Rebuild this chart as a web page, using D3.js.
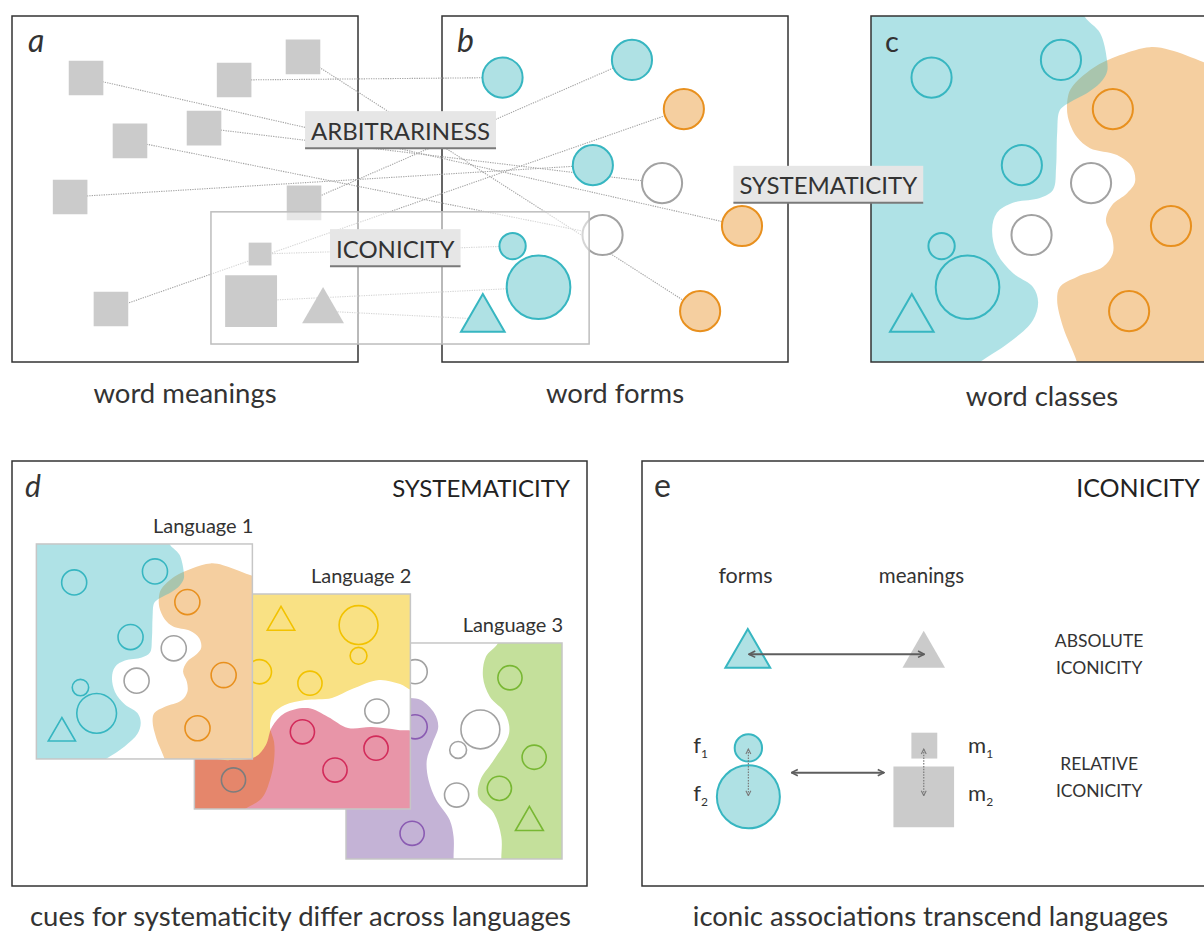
<!DOCTYPE html>
<html>
<head>
<meta charset="utf-8">
<title>Arbitrariness, systematicity and iconicity</title>
<script src="https://cdn.jsdelivr.net/npm/d3@7"></script>
<style>
  body { margin: 0; background: #fff; }
  svg { display: block; font-family: Lato, "Open Sans", sans-serif; }
  .frame { fill: none; stroke: #333; stroke-width: 1.5px; }
  .langframe { fill: none; stroke: #c6c6c6; stroke-width: 1.5px; }
  .link { fill: none; stroke: #a4a4a4; stroke-width: 1.1px; stroke-dasharray: 1.3 1.1; }
  .caption { font-size: 27.5px; fill: #333; text-anchor: middle; }
  .letter { font-size: 32px; fill: #333; }
  .title { font-size: 24px; fill: #222; text-anchor: end; }
  .tag rect { fill: #e6e6e6; }
  .tag line { stroke: #7a7a7a; stroke-width: 2px; }
  .tag text { font-size: 24px; fill: #333; }
  .small { font-size: 20.5px; fill: #333; }
  .caps { font-size: 17.5px; fill: #333; text-anchor: middle; }
</style>
</head>
<body>
<script>
// ---------- data (panel units: 100 units across each panel) ----------

// word meanings, panel a (size = side of square / width of triangle)
const meanings = [
  { id: "m1", shape: "square", x: 21.4, y: 17.9, size: 10 },
  { id: "m2", shape: "square", x: 64.2, y: 18.5, size: 10 },
  { id: "m3", shape: "square", x: 84.1, y: 11.8, size: 10 },
  { id: "m4", shape: "square", x: 55.5, y: 32.4, size: 10 },
  { id: "m5", shape: "square", x: 34.1, y: 36.1, size: 10 },
  { id: "m6", shape: "square", x: 16.8, y: 52.3, size: 10 },
  { id: "m7", shape: "square", x: 84.4, y: 54.0, size: 10 },
  { id: "m8", shape: "square", x: 28.6, y: 84.7, size: 10 },
  { id: "m9", shape: "square", x: 71.7, y: 68.8, size: 6.6, iconic: true },
  { id: "m10", shape: "square", x: 69.1, y: 82.4, size: 15, iconic: true },
  { id: "m11", shape: "triangle", x: 89.9, y: 85.3, size: 12.1, iconic: true }
];

// word forms, panel b (reused as word classes in panel c and in Language 1)
const forms = [
  { id: "f1", cls: "teal", shape: "circle", x: 17.5, y: 17.8, size: 5.8 },
  { id: "f2", cls: "teal", shape: "circle", x: 54.9, y: 12.7, size: 5.8 },
  { id: "f3", cls: "orange", shape: "circle", x: 69.9, y: 26.9, size: 5.8 },
  { id: "f4", cls: "teal", shape: "circle", x: 43.6, y: 43.1, size: 5.8 },
  { id: "f5", cls: "grey", shape: "circle", x: 63.6, y: 48.3, size: 5.8 },
  { id: "f6", cls: "grey", shape: "circle", x: 46.4, y: 63.3, size: 5.8 },
  { id: "f7", cls: "orange", shape: "circle", x: 86.7, y: 60.7, size: 5.8 },
  { id: "f8", cls: "orange", shape: "circle", x: 74.6, y: 85.3, size: 5.8 },
  { id: "f9", cls: "teal", shape: "circle", x: 20.4, y: 66.5, size: 3.8, iconic: true },
  { id: "f10", cls: "teal", shape: "circle", x: 27.9, y: 78.4, size: 9.2, iconic: true },
  { id: "f11", cls: "teal", shape: "triangle", x: 11.8, y: 87.6, size: 12.6, iconic: true }
];

// meaning -> form mappings
const links = [
  ["m1", "f7"], ["m2", "f1"], ["m3", "f8"], ["m4", "f5"], ["m5", "f6"], ["m6", "f4"],
  ["m7", "f2"], ["m8", "f3"], ["m9", "f9"], ["m10", "f10"], ["m11", "f11"]
];

// word-class regions, panel c
const tealRegion = [[-5, -5], [61.0, -3.2], [61.8, 0.2], [66.2, 4.9], [68.2, 12.7], [68.2, 16.2],
  [66.2, 19.4], [62.4, 22.3], [57.5, 24.9], [54.6, 27.2], [53.8, 33.8], [53.5, 43.6], [52.6, 50.3],
  [48.8, 52.6], [41.0, 54.0], [36.4, 56.9], [35.0, 61.8], [36.4, 68.5], [41.0, 74.3], [46.8, 78.3],
  [48.3, 82.7], [46.8, 87.9], [41.0, 93.6], [31.5, 100], [25.7, 103.8], [-5, 105]];
const orangeRegion = [[56.9, 23.4], [58.1, 20.5], [64.2, 15.0], [72.0, 11.3], [80.6, 9.0],
  [86.4, 9.8], [96.0, 13.3], [102.3, 16.2], [106.6, 24.3], [106.6, 105.2], [60.4, 105.2],
  [59.5, 100], [55.5, 89.9], [53.8, 82.1], [54.6, 78.3], [59.5, 75.4], [67.1, 72.5], [69.9, 68.5],
  [69.7, 63.9], [67.9, 59.0], [69.7, 54.6], [74.0, 51.2], [76.3, 48.0], [75.4, 43.6], [71.1, 40.2],
  [63.3, 38.2], [59.5, 35.0], [56.9, 29.2]];

// Language 2
const lang2Forms = [
  { cls: "yellow", shape: "triangle", x: 40.1, y: 13.1, size: 12.7 },
  { cls: "yellow", shape: "circle", x: 76.0, y: 14.4, size: 9.0 },
  { cls: "yellow", shape: "circle", x: 76.0, y: 28.6, size: 3.9 },
  { cls: "yellow", shape: "circle", x: 30.1, y: 36.0, size: 5.6 },
  { cls: "yellow", shape: "circle", x: 53.5, y: 41.3, size: 5.6 },
  { cls: "grey", shape: "circle", x: 84.5, y: 54.2, size: 5.6 },
  { cls: "pink", shape: "circle", x: 50.0, y: 63.8, size: 5.6 },
  { cls: "pink", shape: "circle", x: 84.1, y: 71.4, size: 5.6 },
  { cls: "pink", shape: "circle", x: 65.1, y: 81.5, size: 5.6 },
  { cls: "greyDark", shape: "circle", x: 18.1, y: 86.1, size: 5.6 }
];
const lang2Yellow = [[102.1, 44.4], [95.2, 41.7], [85.5, 39.8], [73.0, 44.0], [63.7, 48.1],
  [51.2, 49.1], [41.9, 51.4], [36.4, 55.6], [35.0, 61.6], [36.9, 68.5], [36.9, 76.9], [35.0, 86.1],
  [31.3, 94.4], [23.4, 99.5], [18.8, 102.3], [-5, 105], [-5, -5], [105, -5]];
const lang2Pink = [[102.1, 64.4], [94.3, 63.0], [82.2, 61.6], [71.1, 62.0], [61.9, 56.9],
  [52.6, 52.8], [41.9, 55.1], [35.9, 61.6], [33.1, 69.9], [28.1, 75.5], [16.5, 76.9], [-5, 77],
  [-5, 105], [105, 105]];

// Language 3
const lang3Forms = [
  { cls: "grey", shape: "circle", x: 32.0, y: 13.3, size: 5.6 },
  { cls: "purple", shape: "circle", x: 32.0, y: 38.8, size: 5.6 },
  { cls: "grey", shape: "circle", x: 62.2, y: 40.0, size: 9.0 },
  { cls: "grey", shape: "circle", x: 51.9, y: 49.5, size: 3.9 },
  { cls: "grey", shape: "circle", x: 51.2, y: 70.4, size: 5.6 },
  { cls: "purple", shape: "circle", x: 30.6, y: 88.1, size: 5.6 },
  { cls: "green", shape: "circle", x: 75.9, y: 16.1, size: 5.6 },
  { cls: "green", shape: "circle", x: 87.1, y: 52.9, size: 5.6 },
  { cls: "green", shape: "circle", x: 71.0, y: 67.3, size: 5.6 },
  { cls: "green", shape: "triangle", x: 84.9, y: 83.1, size: 12.9 }
];
const lang3Purple = [[-5, 28], [15.7, 26.4], [29.6, 25.5], [34.7, 26.4], [40.9, 32.5], [42.7, 38.8],
  [40.0, 46.4], [37.4, 54.2], [38.2, 63.4], [41.8, 72.7], [48.0, 81.9], [49.8, 89.7], [49.8, 100],
  [50, 105], [-5, 105]];
const lang3Green = [[71.3, -3.7], [70.1, 0.5], [64.8, 6.3], [63.4, 15.6], [66.6, 24.9], [73.7, 32.5],
  [75.5, 41.8], [68.4, 54.2], [62.2, 63.4], [61.3, 71.2], [68.4, 78.8], [71.9, 89.7], [71.9, 100],
  [72, 105], [105, 105], [105, -5]];

// panel e: forms and meanings
const iconicForms = [
  { cls: "teal", shape: "triangle", x: 18.4, y: 33.7, size: 7.8 },
  { cls: "teal", shape: "circle", x: 18.5, y: 49.9, size: 2.38 },
  { cls: "teal", shape: "circle", x: 18.5, y: 58.4, size: 5.48 }
];
const iconicMeanings = [
  { shape: "triangle", x: 49.0, y: 33.8, size: 7.4 },
  { shape: "square", x: 49.1, y: 49.5, size: 4.5 },
  { shape: "square", x: 49.0, y: 58.4, size: 10.55 }
];

const languages = ["Language 1", "Language 2", "Language 3"];
const topCaptions = ["word meanings", "word forms", "word classes"];
const bottomCaptions = ["cues for systematicity differ across languages", "iconic associations transcend languages"];
const tags = [
  { text: "ARBITRARINESS", x: 84.7, y: 27.5 },
  { text: "ICONICITY", x: 91.9, y: 61.6 },
  { text: "SYSTEMATICITY", x: 208.5, y: 43.3 }
];

// ---------- setup ----------
const W = 1204, H = 931;
const svg = d3.select("body").append("svg").attr("width", W).attr("height", H);
const defs = svg.append("defs");

function panel(x0, y0, w, h) {
  const k = w / 100;
  return {
    x: d3.scaleLinear().domain([0, 100]).range([x0, x0 + w]),
    y: d3.scaleLinear().domain([0, h / k]).range([y0, y0 + h]),
    k: k, x0: x0, y0: y0, w: w, h: h
  };
}

const pa = panel(12, 16, 346, 346);
const pb = panel(442, 16, 346, 346);
const pc = panel(871, 16, 346, 346);
const pd = panel(12, 461, 575, 425);
const pe = panel(642, 461, 575, 425);
const langPanels = [
  panel(pd.x(4.24), pd.y(14.43), 216, 215),
  panel(pd.x(31.72), pd.y(23.13), 216, 215),
  panel(pd.x(58.09), pd.y(31.65), 216, 216)
];

const strokeColor = d3.scaleOrdinal()
  .domain(["teal", "orange", "grey", "yellow", "pink", "purple", "green", "greyDark"])
  .range(["#37b6c1", "#e8901e", "#a2a2a2", "#f2c200", "#d22b5a", "#8a5bb2", "#78b733", "#7d7d7d"]);
const fillColor = d3.scaleOrdinal()
  .domain(["teal", "orange", "grey"])
  .range(["#afe1e4", "#f5cfa0", "#ffffff"]);

function symbolPath(d, s) {
  const px = d.size * s.k;
  if (d.shape === "circle") return d3.symbol(d3.symbolCircle, Math.PI * px * px)();
  if (d.shape === "square") return d3.symbol(d3.symbolSquare, px * px)();
  return d3.symbol(d3.symbolTriangle, px * px * Math.sqrt(3) / 4)();
}

// mode: "filled" (coloured fill), "open" (outline only), "meaning" (grey block)
function drawShapes(g, data, s, mode, sw) {
  g.selectAll(null).data(data).join("path")
    .attr("d", d => symbolPath(d, s))
    .attr("transform", d => "translate(" + s.x(d.x) + "," + s.y(d.y) + ")")
    .attr("fill", d => mode === "meaning" ? "#cbcbcb" : mode === "filled" ? fillColor(d.cls) : "none")
    .attr("stroke", d => mode === "meaning" ? "none" : strokeColor(d.cls))
    .attr("stroke-width", sw || 2)
    .attr("stroke-linejoin", "miter");
}

const blob = s => d3.line().x(p => s.x(p[0])).y(p => s.y(p[1]))
  .curve(d3.curveCatmullRomClosed.alpha(0.5));

function clipFor(id, s) {
  defs.append("clipPath").attr("id", id)
    .append("rect").attr("x", s.x0).attr("y", s.y0).attr("width", s.w).attr("height", s.h);
  return "url(#" + id + ")";
}

function frame(g, s, cls) {
  g.append("rect").attr("class", cls).attr("x", s.x0).attr("y", s.y0)
    .attr("width", s.w).attr("height", s.h);
}

// word classes drawing (panel c and Language 1)
function drawClasses(g, s, id, sw) {
  const inner = g.append("g").attr("clip-path", clipFor(id, s));
  inner.append("rect").attr("x", s.x0).attr("y", s.y0).attr("width", s.w).attr("height", s.h).attr("fill", "#fff");
  inner.append("path").attr("d", blob(s)(orangeRegion)).attr("fill", "#f5cfa0");
  inner.append("path").attr("d", blob(s)(tealRegion)).attr("fill", "rgb(56,183,193)").attr("fill-opacity", 0.4);
  drawShapes(inner, forms, s, "open", sw);
}

// ---------- panel c ----------
const gc = svg.append("g");
drawClasses(gc, pc, "clip-c", 2);
frame(gc, pc, "frame");

// ---------- panels a and b ----------
const gab = svg.append("g");
frame(gab, pa, "frame");
frame(gab, pb, "frame");

const meaningById = new Map(meanings.map(d => [d.id, d]));
const formById = new Map(forms.map(d => [d.id, d]));

gab.selectAll(".link").data(links).join("line")
  .attr("class", "link")
  .attr("x1", d => pa.x(meaningById.get(d[0]).x))
  .attr("y1", d => pa.y(meaningById.get(d[0]).y))
  .attr("x2", d => pb.x(formById.get(d[1]).x))
  .attr("y2", d => pb.y(formById.get(d[1]).y));

drawShapes(gab.append("g"), meanings.filter(d => !d.iconic), pa, "meaning");
drawShapes(gab.append("g"), forms.filter(d => !d.iconic), pb, "filled", 2);

// iconicity frame spanning both panels
gab.append("rect")
  .attr("x", pa.x(57.5)).attr("y", pa.y(56.6))
  .attr("width", pa.x(166.8) - pa.x(57.5)).attr("height", pa.y(94.8) - pa.y(56.6))
  .attr("fill", "#fff").attr("fill-opacity", 0.55)
  .attr("stroke", "#bdbdbd").attr("stroke-width", 1.5);

drawShapes(gab.append("g"), meanings.filter(d => d.iconic), pa, "meaning");
drawShapes(gab.append("g"), forms.filter(d => d.iconic), pb, "filled", 2);

// panel letters
svg.append("text").attr("class", "letter").attr("x", pa.x0 + 16).attr("y", pa.y0 + 36)
  .style("font-style", "italic").text("a");
svg.append("text").attr("class", "letter").attr("x", pb.x0 + 15).attr("y", pb.y0 + 36)
  .style("font-style", "italic").text("b");
svg.append("text").attr("class", "letter").attr("x", pc.x0 + 14).attr("y", pc.y0 + 36)
  .style("font-size", "29px").text("c");

// labelled tags
const tagG = svg.selectAll(".tag").data(tags).join("g").attr("class", "tag")
  .attr("transform", d => "translate(" + pa.x(d.x) + "," + pa.y(d.y) + ")");
tagG.each(function (d) {
  const g = d3.select(this);
  const r = g.append("rect").attr("height", 37);
  const t = g.append("text").attr("x", 6).attr("y", 28.5).text(d.text);
  const len = t.node().getComputedTextLength();
  r.attr("width", len + 12);
  g.append("line").attr("x1", 0).attr("x2", len + 12).attr("y1", 37).attr("y2", 37);
});

// top captions
svg.selectAll(".topcap").data(topCaptions).join("text")
  .attr("class", "caption")
  .attr("x", (d, i) => [pa, pb, pc][i].x(50) - (i === 2 ? 2 : 0))
  .attr("y", (d, i) => pa.y0 + pa.h + 41 + (i === 2 ? 3 : 0))
  .text(d => d);

// ---------- panel d ----------
const gd = svg.append("g");
frame(gd, pd, "frame");
gd.append("text").attr("class", "letter").attr("x", pd.x0 + 13).attr("y", pd.y0 + 36)
  .style("font-style", "italic").style("font-size", "30px").text("d");
gd.append("text").attr("class", "title").attr("x", pd.x0 + pd.w - 17).attr("y", pd.y0 + 36)
  .text("SYSTEMATICITY");

// Language 3 (back)
(function () {
  const s = langPanels[2];
  const g = gd.append("g");
  const inner = g.append("g").attr("clip-path", clipFor("clip-l3", s));
  inner.append("rect").attr("x", s.x0).attr("y", s.y0).attr("width", s.w).attr("height", s.h).attr("fill", "#fff");
  inner.append("path").attr("d", blob(s)(lang3Purple)).attr("fill", "#c4b3d6");
  inner.append("path").attr("d", blob(s)(lang3Green)).attr("fill", "#c4e09b");
  drawShapes(inner, lang3Forms, s, "open", 1.6);
  frame(g, s, "langframe");
})();

// Language 2
(function () {
  const s = langPanels[1];
  const g = gd.append("g");
  const inner = g.append("g").attr("clip-path", clipFor("clip-l2", s));
  inner.append("rect").attr("x", s.x0).attr("y", s.y0).attr("width", s.w).attr("height", s.h).attr("fill", "#fff");
  inner.append("path").attr("d", blob(s)(lang2Yellow)).attr("fill", "#f9e184");
  inner.append("path").attr("d", blob(s)(lang2Pink)).attr("fill", "#d12b51").attr("fill-opacity", 0.5);
  drawShapes(inner, lang2Forms, s, "open", 1.6);
  frame(g, s, "langframe");
})();

// Language 1 (front) - same classes as panel c
(function () {
  const s = langPanels[0];
  const g = gd.append("g");
  drawClasses(g, s, "clip-l1", 1.6);
  frame(g, s, "langframe");
})();

gd.selectAll(".langlab").data(languages).join("text")
  .attr("class", "small")
  .style("font-size", "20px")
  .attr("text-anchor", "end")
  .attr("x", (d, i) => langPanels[i].x(100) + 1)
  .attr("y", (d, i) => langPanels[i].y0 - 11)
  .text(d => d);

// ---------- panel e ----------
const ge = svg.append("g");
frame(ge, pe, "frame");
ge.append("text").attr("class", "letter").attr("x", pe.x0 + 12).attr("y", pe.y0 + 36).text("e");
ge.append("text").attr("class", "title").attr("x", pe.x(97.0)).attr("y", pe.y0 + 36)
  .style("font-size", "25px").text("ICONICITY");

ge.append("text").attr("class", "small").attr("text-anchor", "middle")
  .style("font-size", "21.5px")
  .attr("x", pe.x(18.0)).attr("y", pe.y(21.2)).text("forms");
ge.append("text").attr("class", "small").attr("text-anchor", "middle")
  .attr("x", pe.x(48.6)).attr("y", pe.y(21.2)).text("meanings");

[["ABSOLUTE", 32.3], ["ICONICITY", 37.0], ["RELATIVE", 53.7], ["ICONICITY", 58.5]].forEach(function (t) {
  ge.append("text").attr("class", "caps").attr("x", pe.x(79.5)).attr("y", pe.y(t[1])).text(t[0]);
});

drawShapes(ge.append("g"), iconicMeanings, pe, "meaning");
drawShapes(ge.append("g"), iconicForms, pe, "filled", 2);

// arrow heads
function chevron(id, color, size, sw) {
  defs.append("marker").attr("id", id)
    .attr("viewBox", "0 0 10 10").attr("refX", 9).attr("refY", 5)
    .attr("markerWidth", size).attr("markerHeight", size)
    .attr("markerUnits", "userSpaceOnUse")
    .attr("orient", "auto-start-reverse")
    .append("path").attr("d", "M2,1.5 L9,5 L2,8.5")
    .attr("fill", "none").attr("stroke", color).attr("stroke-width", sw);
}
chevron("arr", "#5e5e5e", 9, 1.8);
chevron("arr-dot", "#7a7a7a", 7, 1.6);

const arrows = [
  { x1: 18.6, y1: 33.6, x2: 49.1, y2: 33.6, dotted: false },
  { x1: 26.0, y1: 54.2, x2: 42.1, y2: 54.2, dotted: false },
  { x1: 18.5, y1: 50.1, x2: 18.5, y2: 58.2, dotted: true },
  { x1: 49.0, y1: 50.1, x2: 49.0, y2: 58.2, dotted: true }
];
ge.selectAll(".arrow").data(arrows).join("line")
  .attr("x1", d => pe.x(d.x1)).attr("y1", d => pe.y(d.y1))
  .attr("x2", d => pe.x(d.x2)).attr("y2", d => pe.y(d.y2))
  .attr("stroke", d => d.dotted ? "#7a7a7a" : "#5e5e5e")
  .attr("stroke-width", d => d.dotted ? 1.2 : 2)
  .attr("stroke-dasharray", d => d.dotted ? "1.5 1.3" : null)
  .attr("marker-start", d => d.dotted ? "url(#arr-dot)" : "url(#arr)")
  .attr("marker-end", d => d.dotted ? "url(#arr-dot)" : "url(#arr)");

function subLabel(x, y, base, idx) {
  const t = ge.append("text").attr("class", "small").style("font-size", "22px").attr("x", x).attr("y", y);
  t.append("tspan").text(base);
  t.append("tspan").attr("dy", 5).style("font-size", "12px").text(idx);
}
subLabel(pe.x(8.9), pe.y(50.8), "f", "1");
subLabel(pe.x(8.9), pe.y(59.2), "f", "2");
subLabel(pe.x(56.7), pe.y(50.8), "m", "1");
subLabel(pe.x(56.7), pe.y(59.2), "m", "2");

// bottom captions
svg.selectAll(".botcap").data(bottomCaptions).join("text")
  .attr("class", "caption")
  .attr("x", (d, i) => [pd, pe][i].x(50) + 1)
  .attr("y", pd.y0 + pd.h + 40)
  .text(d => d);
</script>
</body>
</html>
